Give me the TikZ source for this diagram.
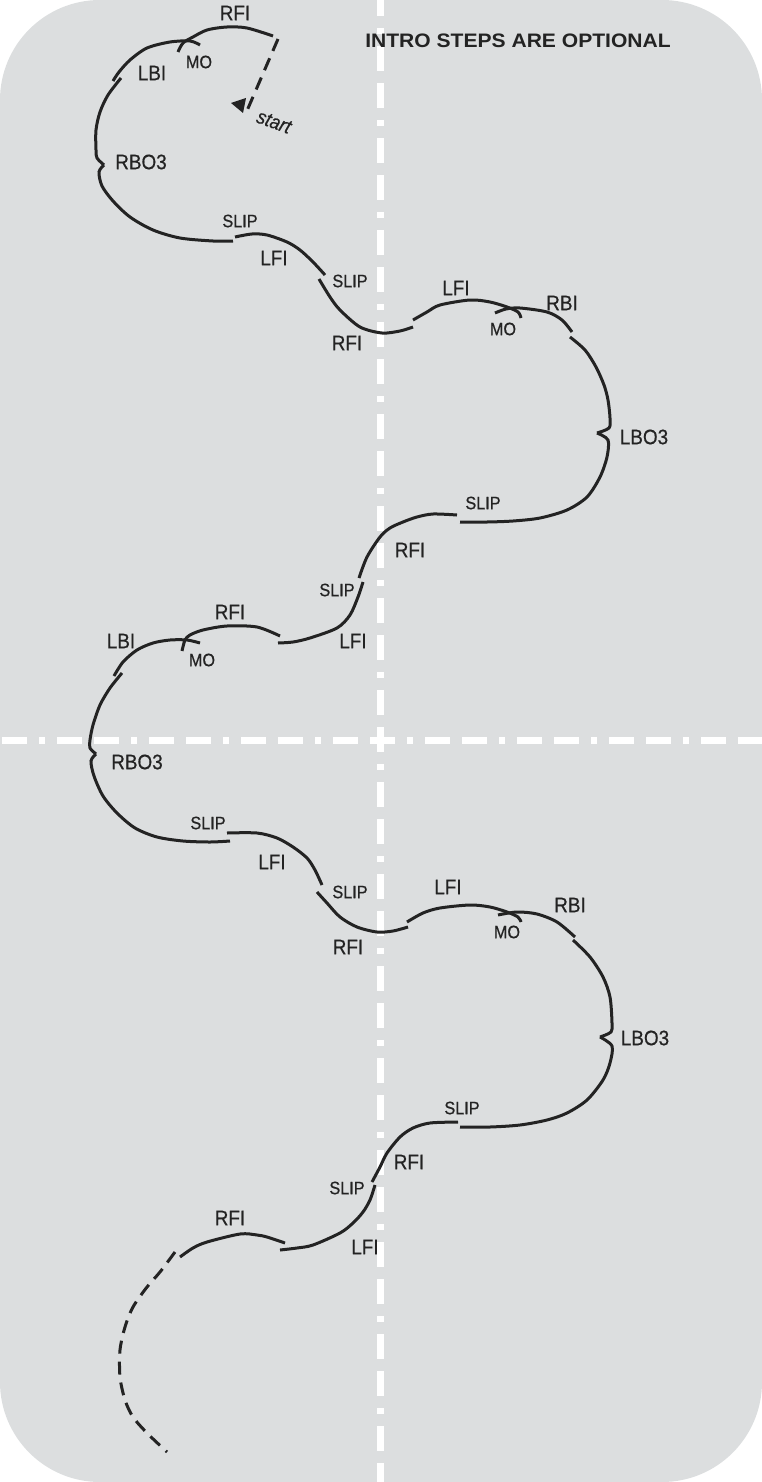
\documentclass[tikz,border=0pt]{standalone}
\usepackage{fontspec}
\setmainfont[FakeStretch=0.9,FakeBold=0.6]{Liberation Sans}
\newfontfamily\titlefont[FakeStretch=1.08]{Liberation Sans}
\definecolor{bg}{HTML}{DCDEDF}
\definecolor{ink}{HTML}{232323}
\begin{document}
\begin{tikzpicture}[x=1pt,y=-1pt,
  trk/.style={draw=ink,line width=3pt},
  dtrk/.style={draw=ink,line width=3pt,dash pattern=on 13pt off 8pt},
  guide/.style={draw=white,line width=7pt,dash pattern=on 6pt off 12pt on 25pt off 12pt on 25pt off 12pt},
  lbl/.style={inner sep=0pt,text=ink,font=\fontsize{21}{21}\selectfont},
  sml/.style={inner sep=0pt,text=ink,font=\fontsize{18}{18}\selectfont}]
\useasboundingbox (0,0) rectangle (762,1482);
\fill[bg,rounded corners=100pt] (0,0) rectangle (762,1482);
% guide lines
\draw[guide,dash phase=53pt] (0,740) -- (762,740);
\draw[guide,dash phase=64pt] (380,0) -- (380,1482);
% title
\node[inner sep=0pt,text=ink,font=\titlefont\bfseries\fontsize{19.5}{20}\selectfont] (title) at (518,41) {INTRO STEPS ARE OPTIONAL};
% ---------- first loop ----------
\draw[dtrk] (278,39) -- (246,113);
\fill[ink] (231,103) -- (246,98) -- (243,113) -- cycle;
\node[lbl,font=\itshape\fontsize{20}{20}\selectfont,rotate=-20] (start) at (274,122) {start};
\draw[trk] plot[smooth] coordinates {(273,36) (247,28) (227,27) (207,30) (193,37) (183,43) (178,52)};
\draw[trk] plot[smooth] coordinates {(200,45) (190,41) (170,42) (147,48) (130,60) (119,72) (113,81)};
\draw[trk] plot[smooth] coordinates {(121,78) (108,95) (100,112) (96,130) (96,150) (97,158) (104,165)};
\draw[trk] plot[smooth] coordinates {(104,165) (99,172) (102,186) (113,201) (130,217) (153,230) (180,238) (213,241) (233,241)};
\draw[trk] plot[smooth] coordinates {(235,237) (252,234) (267,235) (287,242) (300,250) (313,262) (325,275)};
\draw[trk] plot[smooth] coordinates {(319,279) (330,297) (340,310) (360,327) (382,333) (400,331) (413,327)};
\draw[trk] plot[smooth] coordinates {(413,320) (427,312) (440,305) (470,300) (490,302) (507,307) (518,312) (521,318)};
\draw[trk] plot[smooth] coordinates {(495,313) (506,309) (520,308) (547,312) (562,320) (572,332)};
\draw[trk] plot[smooth] coordinates {(570,337) (585,350) (596,367) (604,385) (608,400) (610,418) (609,428) (597,433)};
\draw[trk] plot[smooth] coordinates {(597,433) (608,440) (607,457) (600,477) (587,497) (567,510) (540,518) (513,521) (487,522) (460,522)};
\draw[trk] plot[smooth] coordinates {(457,515) (433,514) (417,517) (403,522) (390,528) (380,537) (367,557) (359,578)};
\draw[trk] plot[smooth] coordinates {(363,582) (358,597) (350,615) (337,628) (310,638) (293,642) (278,643)};
% ---------- second loop ----------
\draw[trk] plot[smooth] coordinates {(280,636) (257,627) (227,626) (203,630) (190,635) (185,640) (182,651)};
\draw[trk] plot[smooth] coordinates {(200,643) (187,640) (170,640) (153,643) (137,650) (123,662) (114,676)};
\draw[trk] plot[smooth] coordinates {(122,673) (110,688) (100,705) (93,725) (90,740) (90,748) (96,754)};
\draw[trk] plot[smooth] coordinates {(96,754) (91,761) (94,776) (103,796) (117,813) (135,828) (157,837) (183,841) (210,842) (230,841)};
\draw[trk] plot[smooth] coordinates {(227,833) (257,833) (277,838) (293,847) (307,858) (315,870) (322,885)};
\draw[trk] plot[smooth] coordinates {(317,892) (327,903) (340,917) (357,927) (377,932) (393,931) (408,927)};
\draw[trk] plot[smooth] coordinates {(407,922) (423,913) (440,908) (470,905) (490,907) (507,912) (518,917) (521,922)};
\draw[trk] plot[smooth] coordinates {(498,915) (517,912) (537,914) (557,922) (575,937)};
\draw[trk] plot[smooth] coordinates {(573,940) (590,957) (603,977) (610,997) (612,1023) (611,1032) (600,1037)};
\draw[trk] plot[smooth] coordinates {(600,1037) (612,1046) (610,1063) (603,1080) (587,1100) (567,1113) (547,1120) (520,1125) (490,1127) (460,1127)};
\draw[trk] plot[smooth] coordinates {(458,1122) (430,1123) (413,1128) (400,1137) (387,1153) (380,1167) (372,1182)};
\draw[trk] plot[smooth] coordinates {(375,1185) (370,1200) (363,1212) (353,1223) (340,1233) (313,1245) (297,1248) (280,1250)};
\draw[trk] plot[smooth] coordinates {(180,1257) (193,1248) (207,1242) (240,1234) (257,1235) (267,1237) (285,1243)};
\draw[dtrk] plot[smooth] coordinates {(175,1252) (160,1272) (147,1287) (133,1307) (125,1327) (120,1350) (120,1377) (125,1400) (133,1417) (147,1433) (167,1452)};
% ---------- labels ----------
\node[lbl] (l1) at (235,13) {RFI};
\node[sml] (l2) at (199,62) {MO};
\node[lbl] (l3) at (152,73) {LBI};
\node[lbl] (l4) at (141,162) {RBO3};
\node[sml] (l5) at (240,221) {SLIP};
\node[lbl] (l6) at (274,258) {LFI};
\node[sml] (l7) at (350,281) {SLIP};
\node[lbl] (l8) at (347,343) {RFI};
\node[lbl] (l9) at (456,288) {LFI};
\node[lbl] (l10) at (562,303) {RBI};
\node[sml] (l11) at (503,329) {MO};
\node[lbl] (l12) at (644,437) {LBO3};
\node[sml] (l13) at (483,503) {SLIP};
\node[lbl] (l14) at (410,550) {RFI};
\node[sml] (l15) at (337,590) {SLIP};
\node[lbl] (l16) at (353,641) {LFI};
\node[lbl] (l17) at (230,612) {RFI};
\node[lbl] (l18) at (121,641) {LBI};
\node[sml] (l19) at (202,660) {MO};
\node[lbl] (l20) at (137,762) {RBO3};
\node[sml] (l21) at (208,823) {SLIP};
\node[lbl] (l22) at (272,862) {LFI};
\node[sml] (l23) at (350,892) {SLIP};
\node[lbl] (l24) at (348,947) {RFI};
\node[lbl] (l25) at (448,887) {LFI};
\node[lbl] (l26) at (570,905) {RBI};
\node[sml] (l27) at (507,932) {MO};
\node[lbl] (l28) at (645,1038) {LBO3};
\node[sml] (l29) at (462,1108) {SLIP};
\node[lbl] (l30) at (409,1162) {RFI};
\node[sml] (l31) at (347,1188) {SLIP};
\node[lbl] (l32) at (365,1247) {LFI};
\node[lbl] (l33) at (230,1218) {RFI};
\end{tikzpicture}
\end{document}
